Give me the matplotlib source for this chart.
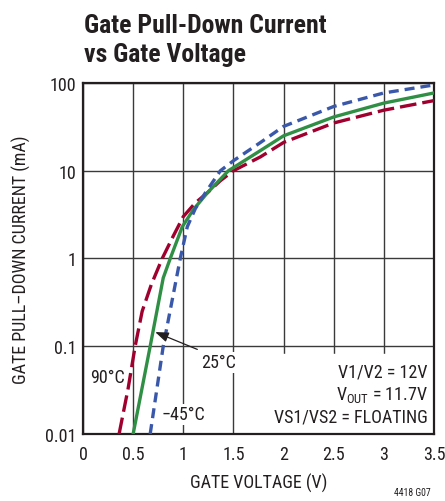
import numpy as np
import matplotlib.pyplot as plt
from matplotlib import font_manager

#### fuente estrecha si la hay
fuentes = font_manager.fontManager.ttflist
nombres = {f.name for f in fuentes}
estirar = 'normal'
fuente = 'Liberation Sans'
for cand in ['Liberation Sans Narrow', 'Roboto Condensed', 'Open Sans Condensed', 'Noto Sans Condensed']:
    if cand in nombres:
        fuente = cand
        break
else:
    if any(f.name == 'DejaVu Sans' and f.stretch == 'condensed' for f in fuentes):
        fuente = 'DejaVu Sans'
        estirar = 'condensed'
plt.rcParams['font.family'] = [fuente, 'DejaVu Sans']
plt.rcParams['font.stretch'] = estirar
plt.rcParams['mathtext.fontset'] = 'custom'
plt.rcParams['mathtext.rm'] = fuente
plt.rcParams['mathtext.default'] = 'regular'

#### datos (V, mA)
v_90 = [0.36, 0.45, 0.52, 0.59, 0.68, 0.79, 0.90, 1.00, 1.12, 1.24, 1.37, 1.50, 1.77, 2.00, 2.50, 3.00, 3.50]
i_90 = [0.01, 0.033, 0.10, 0.25, 0.50, 1.0, 1.8, 3.0, 4.3, 5.6, 7.7, 10.0, 14.4, 21.0, 35.0, 49.0, 63.0]

v_25 = [0.50, 0.67, 0.80, 0.87, 0.99, 1.10, 1.24, 1.45, 1.77, 2.00, 2.50, 3.00, 3.50]
i_25 = [0.01, 0.10, 0.60, 1.0, 2.3, 3.6, 5.6, 10.0, 17.0, 25.0, 41.0, 59.0, 77.0]

v_m45 = [0.67, 0.80, 0.97, 1.04, 1.12, 1.22, 1.37, 1.50, 1.77, 2.00, 2.50, 3.00, 3.50]
i_m45 = [0.01, 0.10, 1.0, 2.3, 3.7, 5.6, 10.0, 13.0, 21.0, 32.0, 54.0, 77.0, 95.0]

x_ticks = [0, 0.5, 1, 1.5, 2, 2.5, 3, 3.5]
x_tick_labels = ['0', '0.5', '1', '1.5', '2', '2.5', '3', '3.5']
y_ticks = [0.01, 0.1, 1, 10, 100]
y_tick_labels = ['0.01', '0.1', '1', '10', '100']

rojo = '#A0002E'
verde = '#2F8F45'
azul = '#3A58AA'
tinta = '#231f20'

fig = plt.figure(figsize=(4.45, 5.02), dpi=100)
ax = fig.add_axes([0.1865, 0.1335, 0.7888, 0.6992])

ax.set_yscale('log')
ax.set_xlim(0, 3.5)
ax.set_ylim(0.01, 100)
ax.set_xticks(x_ticks)
ax.set_xticklabels(x_tick_labels)
ax.set_yticks(y_ticks)
ax.set_yticklabels(y_tick_labels)
ax.yaxis.set_minor_locator(plt.NullLocator())
ax.tick_params(length=0, labelsize=13, colors=tinta)
ax.tick_params(axis='x', pad=8)
ax.tick_params(axis='y', pad=5)
ax.grid(True, color='#3a3a3a', lw=1.0)
ax.set_axisbelow(True)
for s in ax.spines.values():
    s.set_linewidth(1.6)
    s.set_color(tinta)

# caja de condiciones
ax.fill_between([1.55, 3.49], 0.0105, 0.082, color='white', zorder=1.5)
ax.text(3.44, 0.052, 'V1/V2 = 12V', ha='right', va='center', fontsize=13, color=tinta)
ax.text(3.44, 0.0285, r'V$_{OUT}$ = 11.7V', ha='right', va='center', fontsize=13, color=tinta)
ax.text(3.44, 0.016, 'VS1/VS2 = FLOATING', ha='right', va='center', fontsize=13, color=tinta)

ax.plot(v_90, i_90, color=rojo, lw=2.4, dashes=(5.0, 1.8), zorder=3)
ax.plot(v_25, i_25, color=verde, lw=2.4, zorder=3)
ax.plot(v_m45, i_m45, color=azul, lw=2.4, dashes=(3.0, 1.8), zorder=3)

ax.text(0.24, 0.045, '90°C', ha='center', va='center', fontsize=13, color=tinta)
ax.text(1.0, 0.0168, '\u221245°C', ha='center', va='center', fontsize=13, color=tinta,
        bbox=dict(facecolor='white', edgecolor='none', pad=1.0), zorder=2)
ax.text(1.35, 0.066, '25°C', ha='center', va='center', fontsize=13, color=tinta,
        bbox=dict(facecolor='white', edgecolor='none', pad=1.0), zorder=2)
ax.annotate('', xy=(0.72, 0.145), xytext=(1.14, 0.092),
            arrowprops=dict(arrowstyle='-|>,head_length=0.8,head_width=0.3', color=tinta, lw=0.9,
                            shrinkA=0, shrinkB=0),
            zorder=4)

ax.set_xlabel('GATE VOLTAGE (V)', fontsize=13, color=tinta, labelpad=7)
ax.set_ylabel('GATE PULL\u2013DOWN CURRENT (mA)', fontsize=13, color=tinta, labelpad=10)

fig.text(0.188, 0.972, 'Gate Pull-Down Current\nvs Gate Voltage', ha='left', va='top',
         fontsize=18.5, fontweight='bold', color=tinta, linespacing=1.25)
fig.text(0.968, 0.008, '4418 G07', ha='right', va='bottom', fontsize=7, color=tinta)

fig.savefig('out.png', dpi=100)
